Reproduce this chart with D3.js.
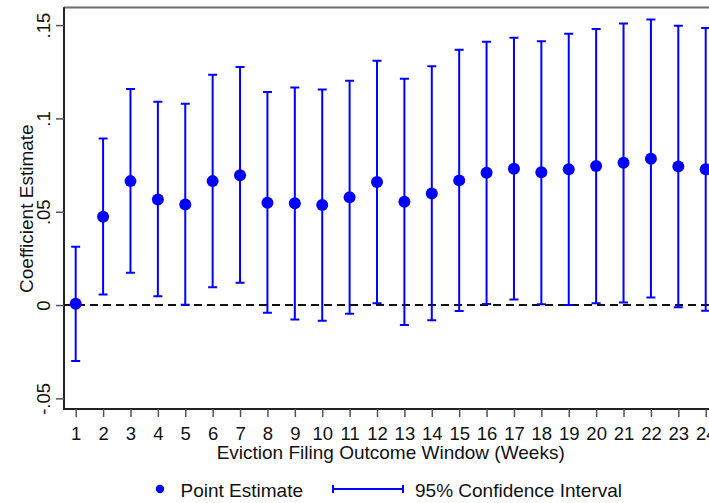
<!DOCTYPE html>
<html>
<head>
<meta charset="utf-8">
<script src="https://cdn.jsdelivr.net/npm/d3@7/dist/d3.min.js"></script>
<style>
  html, body { margin: 0; padding: 0; background: #fff; overflow: hidden; }
  svg { display: block; font-family: "Liberation Sans", Arial, sans-serif; }
</style>
</head>
<body>
<svg id="chart" width="709" height="503"></svg>
<script>
// Outcome window (weeks) and estimated coefficients with 95% CI bounds
const weeks = [1, 2, 3, 4, 5, 6, 7, 8, 9, 10, 11, 12, 13, 14, 15, 16, 17, 18, 19, 20, 21, 22, 23, 24];
const estimate = [0.0007, 0.0473, 0.0664, 0.0566, 0.0539, 0.0664, 0.0696, 0.0548, 0.0545, 0.0536, 0.0577, 0.0659,
                  0.0554, 0.0598, 0.0668, 0.0709, 0.0730, 0.0711, 0.0727, 0.0745, 0.0762, 0.0784, 0.0743, 0.0727];
const ciUpper = [0.0312, 0.0893, 0.1157, 0.1089, 0.1078, 0.1234, 0.1275, 0.1141, 0.1166, 0.1155, 0.1202, 0.1309,
                 0.1213, 0.1279, 0.1368, 0.1411, 0.1432, 0.1414, 0.1453, 0.1479, 0.1509, 0.1530, 0.1496, 0.1484];
const ciLower = [-0.0300, 0.0057, 0.0173, 0.0047, 0.0002, 0.0095, 0.0120, -0.0041, -0.0077, -0.0084, -0.0047, 0.0009,
                 -0.0107, -0.0082, -0.0032, 0.0005, 0.0030, 0.0004, 0.0000, 0.0009, 0.0014, 0.0041, -0.0012, -0.0030];
const yTicks = [-0.05, 0, 0.05, 0.1, 0.15];
const yTickLabels = ["-.05", "0", ".05", ".1", ".15"];

const svg = d3.select("#chart");
const blue = "#0000ff";
const ink = "#111";

const x = d3.scaleLinear().domain([0.573, 24.427]).range([64, 717.4]);
const y = d3.scaleLinear().domain([-0.0557, 0.159]).range([409, 8.3]);

// frame: grey top rule, dark left and bottom axes
svg.append("line").attr("x1", 64).attr("x2", 717.4).attr("y1", 7.5).attr("y2", 7.5)
  .attr("stroke", "#6f6f6f").attr("stroke-width", 2);

// y axis
const yAxis = svg.append("g").attr("transform", "translate(64,0)")
  .call(d3.axisLeft(y).tickValues(yTicks).tickSize(8).tickFormat((d, i) => yTickLabels[i]));
yAxis.select(".domain").attr("stroke", "#222").attr("stroke-width", 2).attr("d", `M0,${y.range()[1] - 1}V${y.range()[0] + 1}`);
yAxis.selectAll(".tick line").attr("stroke", "#555").attr("stroke-width", 1.5);
yAxis.selectAll(".tick text")
  .attr("fill", ink).attr("font-size", 18.5).attr("x", null).attr("dy", null)
  .attr("text-anchor", "middle")
  .attr("transform", "translate(-14,0) rotate(-90)");

// x axis
const xAxis = svg.append("g").attr("transform", "translate(0,409)")
  .call(d3.axisBottom(x).tickValues(weeks).tickSize(8).tickFormat(d3.format("d")));
xAxis.select(".domain").attr("stroke", "#222").attr("stroke-width", 2).attr("d", `M${x.range()[0] - 1},0H${x.range()[1]}`);
xAxis.selectAll(".tick line").attr("stroke", "#555").attr("stroke-width", 1.5);
xAxis.selectAll(".tick text").attr("fill", ink).attr("font-size", 18.5).attr("y", 31).attr("dy", null);

// axis titles
const xMid = (x.range()[0] + x.range()[1]) / 2;
svg.append("text").attr("x", xMid).attr("y", 459).attr("text-anchor", "middle")
  .attr("font-size", 19).attr("fill", ink).text("Eviction Filing Outcome Window (Weeks)");
svg.append("text").attr("transform", `translate(33,${(y.range()[0] + y.range()[1]) / 2}) rotate(-90)`)
  .attr("text-anchor", "middle").attr("font-size", 19).attr("fill", ink).text("Coefficient Estimate");

// zero reference line
svg.append("line").attr("x1", 64).attr("x2", 717.4).attr("y1", y(0)).attr("y2", y(0))
  .attr("stroke", "#111").attr("stroke-width", 2).attr("stroke-dasharray", "8,5");

// confidence intervals
const data = weeks.map((w, i) => ({ w, est: estimate[i], lo: ciLower[i], hi: ciUpper[i] }));
const bars = svg.append("g").attr("stroke", blue).attr("stroke-width", 2).attr("fill", "none");
bars.selectAll("path").data(data).join("path")
  .attr("d", d => {
    const cx = x(d.w), top = y(d.hi), bot = y(d.lo), c = 4.5;
    return `M${cx - c},${top}H${cx + c}M${cx},${top}V${bot}M${cx - c},${bot}H${cx + c}`;
  });

// point estimates
svg.append("g").selectAll("circle").data(data).join("circle")
  .attr("cx", d => x(d.w)).attr("cy", d => y(d.est)).attr("r", 6).attr("fill", blue);

// legend
const lg = svg.append("g");
lg.append("circle").attr("cx", 160).attr("cy", 489).attr("r", 4.2).attr("fill", blue);
lg.append("text").attr("x", 180.5).attr("y", 496.5).attr("font-size", 19).attr("fill", ink).text("Point Estimate");
lg.append("path").attr("d", "M333,489H403M333,485V493M403,485V493")
  .attr("stroke", blue).attr("stroke-width", 2).attr("fill", "none");
lg.append("text").attr("x", 415).attr("y", 496.5).attr("font-size", 19).attr("fill", ink).text("95% Confidence Interval");
</script>
</body>
</html>
